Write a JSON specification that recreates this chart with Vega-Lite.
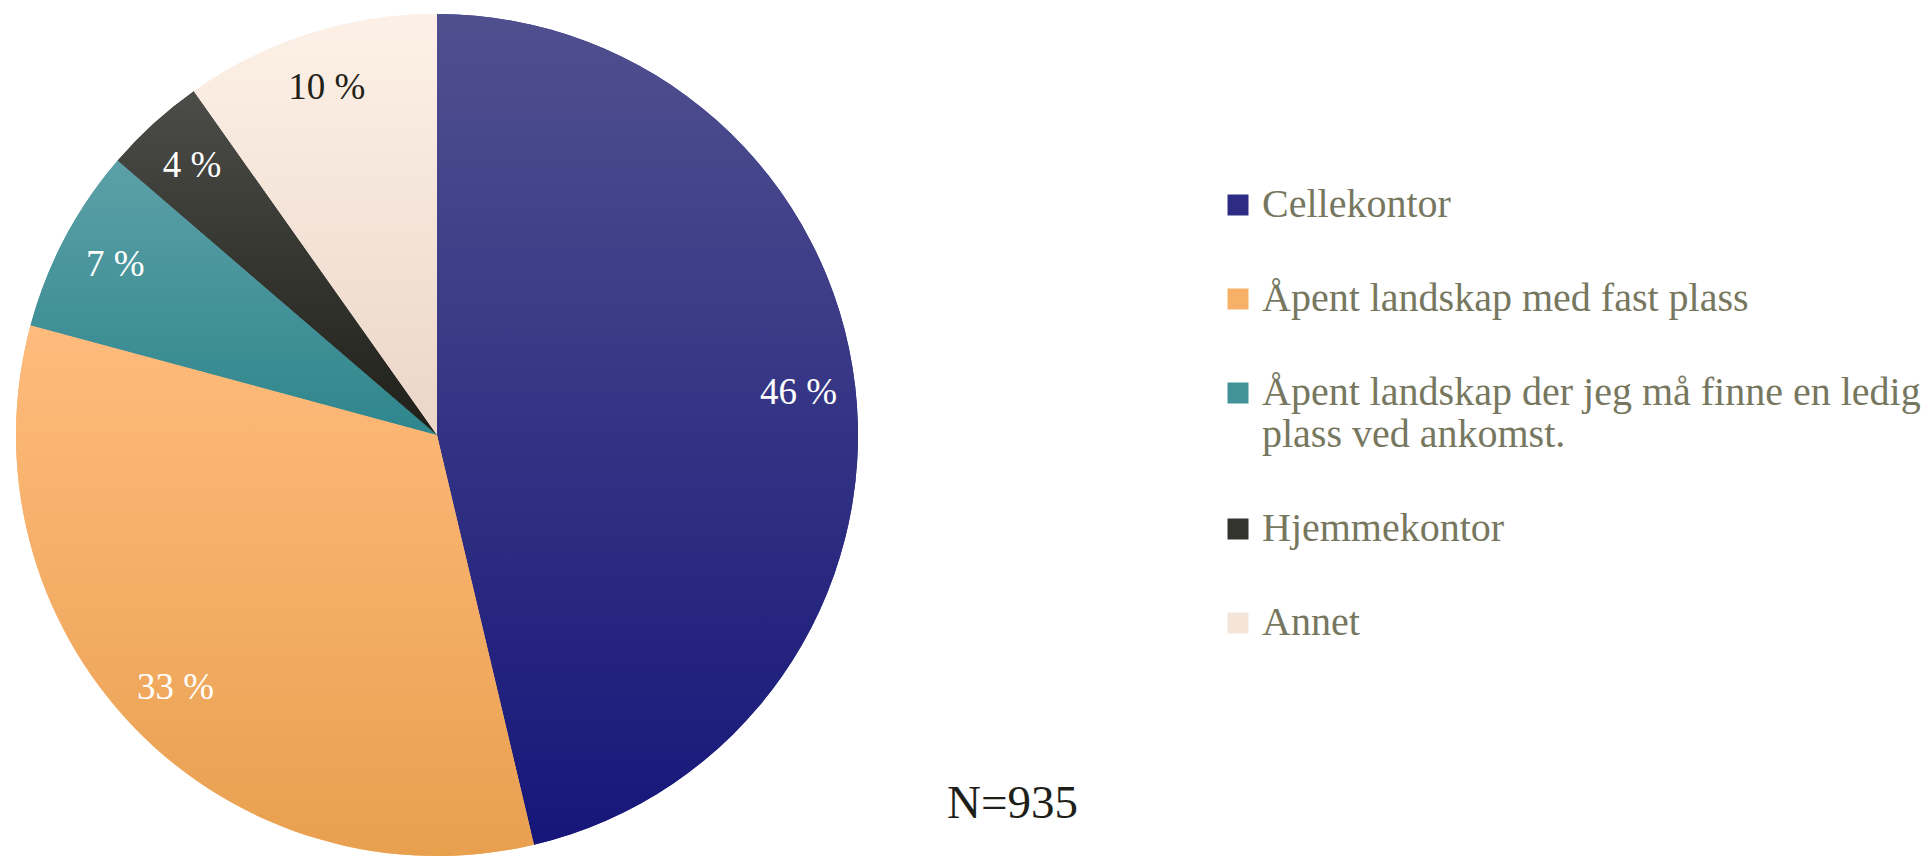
{
  "$schema": "https://vega.github.io/schema/vega-lite/v6.json",
  "width": 874,
  "height": 870,
  "padding": 0,
  "background": "white",
  "view": {"stroke": null},
  "title": {
    "text": "N=935",
    "orient": "bottom",
    "anchor": "end",
    "frame": "group",
    "offset": 0,
    "dx": 204,
    "dy": -89,
    "font": "Liberation Serif",
    "fontSize": 47,
    "fontWeight": "normal",
    "color": "#1f1f1a"
  },
  "data": {
    "values": [
      {"category": "Cellekontor", "value": 46.3, "label": "46 %", "idx": 1},
      {"category": "Åpent landskap med fast plass", "value": 32.9, "label": "33 %", "idx": 2},
      {"category": "Åpent landskap der jeg må finne en ledig plass ved ankomst.", "value": 7.1, "label": "7 %", "idx": 3},
      {"category": "Hjemmekontor", "value": 3.9, "label": "4 %", "idx": 4},
      {"category": "Annet", "value": 9.8, "label": "10 %", "idx": 5}
    ]
  },
  "encoding": {
    "theta": {"field": "value", "type": "quantitative", "stack": true},
    "order": {"field": "idx", "type": "quantitative"}
  },
  "layer": [
    {
      "mark": {"type": "arc", "outerRadius": 421, "stroke": null},
      "encoding": {
        "color": {
          "field": "category",
          "type": "nominal",
          "scale": {
            "domain": [
              "Cellekontor",
              "Åpent landskap med fast plass",
              "Åpent landskap der jeg må finne en ledig plass ved ankomst.",
              "Hjemmekontor",
              "Annet"
            ],
            "range": ["#2c2c84", "#f6b068", "#43929a", "#34342e", "#f5e4d8"]
          },
          "legend": {
            "title": null,
            "orient": "none",
            "legendX": 1218,
            "legendY": 185,
            "padding": 0,
            "symbolType": "square",
            "symbolSize": 441,
            "symbolStrokeWidth": 0,
            "symbolOpacity": 1,
            "labelFont": "Liberation Serif",
            "labelFontSize": 40,
            "labelColor": "#76775e",
            "labelOffset": 4,
            "labelLimit": 1000,
            "rowPadding": 54,
            "labelExpr": "datum.label == 'Åpent landskap der jeg må finne en ledig plass ved ankomst.' ? ['Åpent landskap der jeg må finne en ledig', 'plass ved ankomst.'] : datum.label"
          }
        }
      }
    },
    {
      "mark": {"type": "arc", "outerRadius": 421, "stroke": null},
      "encoding": {
        "fill": {
          "condition": [
            {"test": "datum.category == 'Cellekontor'", "value": {"gradient": "linear", "x1": 0, "y1": 0, "x2": 0, "y2": 1, "stops": [{"offset": 0, "color": "#50508f"}, {"offset": 1, "color": "#16167a"}]}},
            {"test": "datum.category == 'Åpent landskap med fast plass'", "value": {"gradient": "linear", "x1": 0, "y1": 0, "x2": 0, "y2": 1, "stops": [{"offset": 0, "color": "#ffbb7c"}, {"offset": 1, "color": "#e8a04f"}]}},
            {"test": "datum.category == 'Hjemmekontor'", "value": {"gradient": "linear", "x1": 0, "y1": 0, "x2": 0, "y2": 1, "stops": [{"offset": 0, "color": "#4c4c48"}, {"offset": 1, "color": "#20201a"}]}},
            {"test": "datum.category == 'Annet'", "value": {"gradient": "linear", "x1": 0, "y1": 0, "x2": 0, "y2": 1, "stops": [{"offset": 0, "color": "#fdf1e7"}, {"offset": 1, "color": "#ebd6c8"}]}}
          ],
          "value": {"gradient": "linear", "x1": 0, "y1": 0, "x2": 0, "y2": 1, "stops": [{"offset": 0, "color": "#5ca0a7"}, {"offset": 1, "color": "#2e868c"}]}
        }
      }
    },
    {
      "mark": {"type": "text", "radius": 364, "font": "Liberation Serif", "fontSize": 37, "align": "center", "baseline": "middle"},
      "encoding": {
        "text": {"field": "label", "type": "nominal"},
        "color": {
          "condition": {"test": "datum.category == 'Annet'", "value": "#222219"},
          "value": "#ffffff"
        }
      }
    }
  ]
}
